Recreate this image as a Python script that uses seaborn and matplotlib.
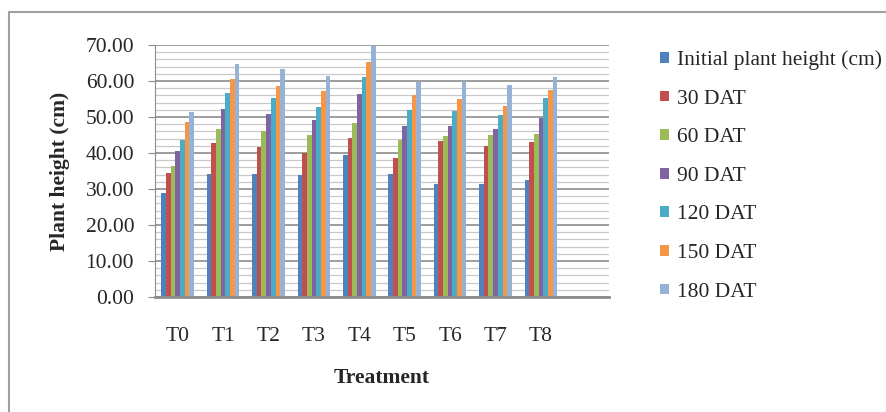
import seaborn as sns
import pandas as pd
import matplotlib.pyplot as plt
from matplotlib.ticker import MultipleLocator, FormatStrFormatter

treatments = ['T0', 'T1', 'T2', 'T3', 'T4', 'T5', 'T6', 'T7', 'T8']
stages = ['Initial plant height (cm)', '30 DAT', '60 DAT', '90 DAT',
          '120 DAT', '150 DAT', '180 DAT']

initial = [28.8, 34.2, 34.2, 33.8, 39.4, 34.1, 31.5, 31.5, 32.6]
dat30 = [34.4, 42.9, 41.6, 40.1, 44.1, 38.7, 43.3, 41.9, 43.0]
dat60 = [36.5, 46.6, 46.1, 44.9, 48.2, 43.6, 44.8, 45.0, 45.3]
dat90 = [40.6, 52.2, 50.8, 49.1, 56.5, 47.6, 47.6, 46.8, 49.7]
dat120 = [43.6, 56.6, 55.4, 52.9, 61.0, 51.9, 51.6, 50.5, 55.2]
dat150 = [48.5, 60.5, 58.7, 57.3, 65.3, 56.2, 55.1, 53.1, 57.5]
dat180 = [51.5, 64.6, 63.2, 61.5, 69.8, 59.6, 59.6, 59.0, 61.0]

colors = ['#4F81BD', '#C0504D', '#9BBB59', '#8064A2',
          '#4BACC6', '#F79646', '#95B3D7']

series = [initial, dat30, dat60, dat90, dat120, dat150, dat180]
rows = []
for stage, vals in zip(stages, series):
    for t, v in zip(treatments, vals):
        rows.append({'Treatment': t, 'Stage': stage, 'Height': v})
df = pd.DataFrame(rows)

sns.set_style("white")
plt.rcParams['font.family'] = ['Liberation Serif', 'DejaVu Serif']

fig = plt.figure(figsize=(8.86, 4.12), dpi=100)
ax = fig.add_axes([155 / 886, 1 - 297 / 412, 454 / 886, 252 / 412])

sns.barplot(data=df, x='Treatment', y='Height', hue='Stage',
            hue_order=stages, order=treatments, palette=colors,
            width=0.72, saturation=1, edgecolor='none', ax=ax)

ax.set_xlim(-0.5, 9.5)
ax.set_ylim(0, 70)
ax.yaxis.set_major_locator(MultipleLocator(10))
ax.yaxis.set_minor_locator(MultipleLocator(2))
ax.yaxis.set_major_formatter(FormatStrFormatter('%.2f'))
ax.grid(which='major', axis='y', color='#8c8c8c', linewidth=1.2)
ax.grid(which='minor', axis='y', color='#c8c8c8', linewidth=0.9)
ax.set_axisbelow(True)

for side in ['top', 'right']:
    ax.spines[side].set_visible(False)
ax.spines['left'].set_color('#8c8c8c')
ax.spines['bottom'].set_color('#8c8c8c')
ax.spines['bottom'].set_linewidth(2)

ax.tick_params(axis='y', which='major', left=True, length=5, color='#8c8c8c',
               labelsize=15.5, pad=10)
ax.tick_params(axis='y', which='minor', left=False)
ax.tick_params(axis='x', bottom=False, labelsize=15.5, pad=18)

ax.set_xlabel('Treatment', fontsize=15.5, fontweight='bold', labelpad=16)
ax.set_ylabel('Plant height (cm)', fontsize=15.5, fontweight='bold', labelpad=11)

handles, labels = ax.get_legend_handles_labels()
ax.legend(handles, labels, loc='upper left',
          bbox_to_anchor=(641 / 886, 1 - 31 / 412),
          bbox_transform=fig.transFigure, frameon=False, fontsize=15.5,
          handlelength=0.4, handleheight=0.4, handletextpad=0.37,
          labelspacing=0.91)

# outer chart border
fig.add_artist(plt.Line2D([9 / 886, 9 / 886], [0, 1 - 12 / 412],
                          transform=fig.transFigure, color='#a0a0a0', lw=1.5))
fig.add_artist(plt.Line2D([9 / 886, 1], [1 - 12 / 412, 1 - 12 / 412],
                          transform=fig.transFigure, color='#a0a0a0', lw=1.5))

fig.savefig('out.png', dpi=100)
